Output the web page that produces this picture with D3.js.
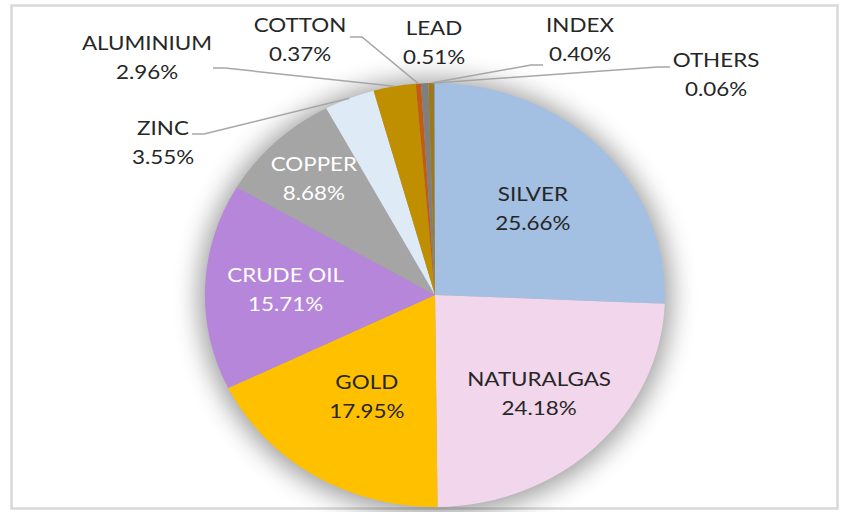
<!DOCTYPE html>
<html>
<head>
<meta charset="utf-8">
<script src="https://cdn.jsdelivr.net/npm/d3@7"></script>
<style>
  body { margin: 0; background: #fff; }
  svg text { font-family: Lato, "Open Sans", sans-serif; font-size: 20px; }
</style>
</head>
<body>
<script>
// chart data (clockwise from 12 o'clock)
const categories = ["SILVER", "NATURALGAS", "GOLD", "CRUDE OIL", "COPPER", "ZINC",
  "ALUMINIUM", "COTTON", "LEAD", "INDEX", "OTHERS"]
const shares = [25.66, 24.18, 17.95, 15.71, 8.68, 3.55, 2.96, 0.37, 0.51, 0.40, 0.06]
const colors = ["#A3BFE2", "#F2D6EC", "#FFC000", "#B686DA", "#A5A5A5", "#DEEAF6",
  "#BF8F00", "#C55A11", "#7F7F7F", "#9C7A1C", "#7F9CC9"]

// labels that sit inside the pie: how far out along the slice (0..1)
const insideLabels = { "SILVER": 0.59, "NATURALGAS": 0.65, "GOLD": 0.565, "CRUDE OIL": 0.65, "COPPER": 0.76 }
const whiteLabels = ["CRUDE OIL", "COPPER"]
// outside labels, placed by hand like in the workbook: [x, y, leader start x, leader y, side]
const outsideLabels = {
  "ZINC": [163, 128, 192, 134, 1],
  "ALUMINIUM": [147, 43, 213, 68, 1],
  "COTTON": [300, 25, 350, 37, 1],
  "LEAD": [434, 28, null, null, 0],
  "INDEX": [580, 25, 543, 65, -1],
  "OTHERS": [716, 60, 670, 67, -1]
}

const width = 845, height = 512
const cx = 435, cy = 295, rx = 230, ry = 212
const lineGap = 29, stretch = 1.12

const data = categories.map((c, i) => ({ name: c, value: shares[i], color: colors[i] }))

// unit circle -> ellipse on screen
const x = d3.scaleLinear().domain([-1, 1]).range([cx - rx, cx + rx])
const y = d3.scaleLinear().domain([-1, 1]).range([cy - ry, cy + ry])
const onPie = (a, f) => [x(Math.sin(a) * f), y(-Math.cos(a) * f)]

const svg = d3.select("body").append("svg")
  .attr("width", width)
  .attr("height", height)

const defs = svg.append("defs")
defs.append("filter")
  .attr("id", "glow")
  .attr("x", "-30%").attr("y", "-30%")
  .attr("width", "160%").attr("height", "160%")
  .append("feGaussianBlur")
  .attr("stdDeviation", 13)

// frame
svg.append("rect")
  .attr("x", 11.5).attr("y", 5.5)
  .attr("width", 826).attr("height", 503)
  .attr("fill", "#fff")
  .attr("stroke", "#D9D9D9")
  .attr("stroke-width", 2.5)

// soft shadow round the pie
svg.append("ellipse")
  .attr("cx", cx).attr("cy", cy + 2)
  .attr("rx", rx + 6).attr("ry", ry + 6)
  .attr("fill", "#000")
  .attr("opacity", 0.38)
  .attr("filter", "url(#glow)")

const pie = d3.pie().sort(null).value(d => d.value)
const arcs = pie(data)
const arc = d3.arc().innerRadius(0).outerRadius(1)

svg.append("g")
  .attr("transform", `translate(${cx},${cy}) scale(${rx},${ry})`)
  .selectAll("path")
  .data(arcs)
  .enter().append("path")
  .attr("d", arc)
  .attr("fill", d => d.data.color)

const mid = d => (d.startAngle + d.endAngle) / 2

// leader lines
const leaders = arcs.filter(d => outsideLabels[d.data.name] && outsideLabels[d.data.name][2] != null)
svg.append("g")
  .selectAll("polyline")
  .data(leaders)
  .enter().append("polyline")
  .attr("fill", "none")
  .attr("stroke", "#A6A6A6")
  .attr("stroke-width", 1.5)
  .attr("points", d => {
    const o = outsideLabels[d.data.name]
    const end = onPie(mid(d), 1)
    return [[o[2], o[3]], [o[2] + 12 * o[4], o[3]], end].map(p => p.join(",")).join(" ")
  })

// data labels
const labels = svg.append("g")
  .selectAll("text")
  .data(arcs)
  .enter().append("text")
  .attr("text-anchor", "middle")
  .attr("fill", d => whiteLabels.includes(d.data.name) ? "#fff" : "#262626")
  .attr("transform", d => {
    let p
    if (insideLabels[d.data.name] != null) {
      p = onPie(mid(d), insideLabels[d.data.name])
      p = [p[0], p[1] - lineGap / 2]
    } else {
      const o = outsideLabels[d.data.name]
      p = [o[0], o[1]]
    }
    return `translate(${p[0]},${p[1]}) scale(${stretch},1)`
  })

labels.append("tspan")
  .attr("x", 0).attr("dy", "0.35em")
  .text(d => d.data.name)
labels.append("tspan")
  .attr("x", 0).attr("y", lineGap).attr("dy", "0.35em")
  .text(d => d3.format(".2f")(d.data.value) + "%")
</script>
</body>
</html>
